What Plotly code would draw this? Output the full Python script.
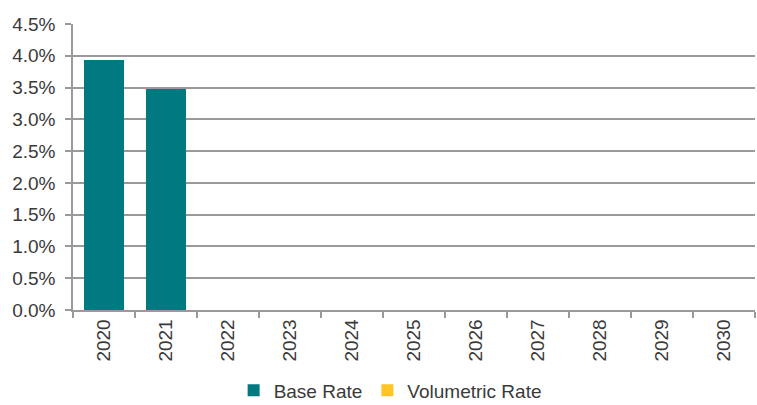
import plotly.graph_objects as go

years = ["2020", "2021", "2022", "2023", "2024", "2025", "2026", "2027", "2028", "2029", "2030"]
base_rate = [0.0393, 0.0348, None, None, None, None, None, None, None, None, None]
volumetric_rate = [None, None, None, None, None, None, None, None, None, None, None]
y_ticks = [0, 0.005, 0.01, 0.015, 0.02, 0.025, 0.03, 0.035, 0.04, 0.045]
y_labels = ["0.0%", "0.5%", "1.0%", "1.5%", "2.0%", "2.5%", "3.0%", "3.5%", "4.0%", "4.5%"]

font_family = "Liberation Sans, Arial, sans-serif"
text_color = "#3a3a3a"
grid_color = "#9a9a9a"

fig = go.Figure()
fig.add_trace(go.Bar(x=years, y=base_rate, name="Base Rate", marker_color="#007A80",
                     marker_line_width=0))
fig.add_trace(go.Bar(x=years, y=volumetric_rate, name="Volumetric Rate", marker_color="#FFC425",
                     marker_line_width=0))

fig.update_layout(
    width=757, height=405,
    margin=dict(l=73, r=2, t=24, b=95, autoexpand=False),
    barmode="stack",
    bargap=0.35,
    paper_bgcolor="white",
    plot_bgcolor="white",
    font=dict(family=font_family, size=19, color=text_color),
    showlegend=True,
    legend=dict(orientation="h", x=0.465, xanchor="center", y=-0.215, yanchor="top",
                font=dict(size=19, color=text_color), itemwidth=30,
                traceorder="normal"),
)
fig.update_xaxes(
    type="category", tickangle=-90, showgrid=False,
    showline=True, linecolor=grid_color, linewidth=1.5,
    ticks="outside", ticklen=6, tickcolor=grid_color, tickwidth=1.5,
    tickson="boundaries", automargin=False,
    tickfont=dict(size=19, color=text_color),
)
fig.update_yaxes(
    range=[0, 0.045], tickvals=y_ticks, ticktext=y_labels,
    showgrid=True, gridcolor=grid_color, gridwidth=1.5,
    showline=True, linecolor=grid_color, linewidth=1.5,
    ticks="outside", ticklen=6, tickcolor=grid_color, tickwidth=1.5,
    zeroline=False, automargin=False, ticklabelstandoff=6,
    tickfont=dict(size=19, color=text_color),
)

fig.write_html("out.html")
